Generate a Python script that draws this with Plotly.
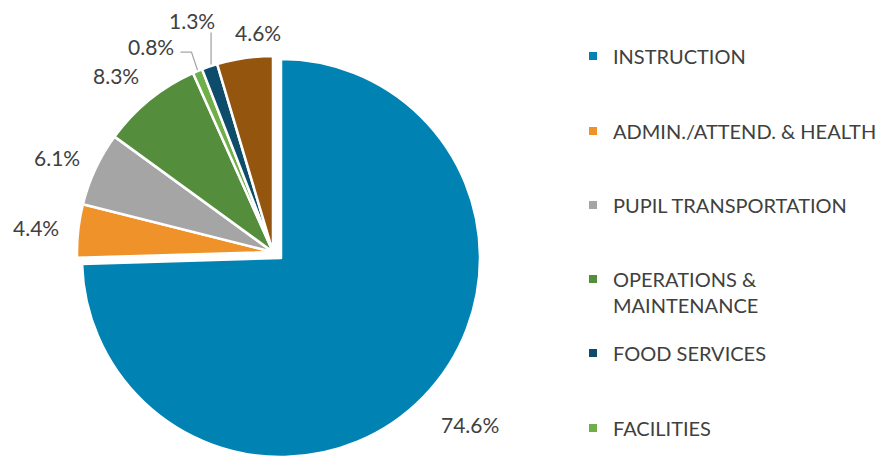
import math
import plotly.graph_objects as go

# ---------------- data (clockwise from 12 o'clock) ----------------
labels = ["INSTRUCTION", "ADMIN./ATTEND. & HEALTH", "PUPIL TRANSPORTATION",
          "OPERATIONS & MAINTENANCE", "FACILITIES", "FOOD SERVICES", "OTHER"]
values = [74.6, 4.4, 6.1, 8.3, 0.8, 1.3, 4.6]
colors = ["#0083B3", "#F0922A", "#A5A5A5", "#548E3D", "#6FAE48", "#0D4D6B", "#94560F"]

# legend (order as shown in the reference)
legend_labels = ["INSTRUCTION", "ADMIN./ATTEND. & HEALTH", "PUPIL TRANSPORTATION",
                 "OPERATIONS &<br>MAINTENANCE", "FOOD SERVICES", "FACILITIES"]
legend_colors = ["#0083B3", "#F0922A", "#A5A5A5", "#548E3D", "#0D4D6B", "#6FAE48"]

# ---------------- layout / style settings ----------------
W, H = 890, 457
FONT = "Lato"
TXT = "#404040"
LEADER = "#A6A6A6"
BORDER = 2.5
EXPLODED = [0]                       # slice drawn exploded (Instruction)
DOM_MAIN = dict(x=[77 / W, 469 / W], y=[0.0197, 0.8775])
DOM_EXPL = dict(x=[82 / W, 480 / W], y=[0.0, 0.8709])
legend_ypix = [56, 131, 205, 292, 353, 428]
legend_xpix = 573
# Excel-like label placement tweaks (pixels)
label_gap = 18
label_nudge = {0: (12, 8), 3: (-7, -2), 4: (-46, -25), 5: (-18, -46), 6: (19, 2)}
leader_style = {4: "elbow", 5: "vertical"}


def geom(dom):
    cx = (dom["x"][0] + dom["x"][1]) / 2 * W
    cy = (1 - (dom["y"][0] + dom["y"][1]) / 2) * H
    rr = min((dom["x"][1] - dom["x"][0]) * W, (dom["y"][1] - dom["y"][0]) * H) / 2
    return cx, cy, rr


fig = go.Figure()
common = dict(labels=labels, values=values, sort=False, direction="clockwise",
              rotation=0, textinfo="none", showlegend=False, automargin=False,
              hovertemplate="%{label}: %{value:.1f}%<extra></extra>")
# exploded slice(s)
fig.add_trace(go.Pie(
    **common, domain=DOM_EXPL,
    marker=dict(colors=[c if i in EXPLODED else "rgba(0,0,0,0)" for i, c in enumerate(colors)],
                line=dict(color="white", width=[BORDER if i in EXPLODED else 0 for i in range(len(values))])),
))
# remaining slices
fig.add_trace(go.Pie(
    **common, domain=DOM_MAIN,
    marker=dict(colors=["rgba(0,0,0,0)" if i in EXPLODED else c for i, c in enumerate(colors)],
                line=dict(color="white", width=[0 if i in EXPLODED else BORDER for i in range(len(values))])),
))

total = sum(values)
cum = 0.0
for i, v in enumerate(values):
    theta = 2 * math.pi * (cum + v / 2) / total
    cum += v
    dx, dy = math.sin(theta), -math.cos(theta)  # screen direction (y down)
    ox, oy, r = geom(DOM_EXPL if i in EXPLODED else DOM_MAIN)
    text = f"{v:.1f}%"
    hw, hh = 6.0 * len(text), 10
    rim = (ox + r * dx, oy + r * dy)
    nx, ny = label_nudge.get(i, (0, 0))
    if i in leader_style:
        lx, ly = rim[0] + nx, rim[1] + ny
    else:
        lx = ox + (r + label_gap) * dx + hw * dx + nx
        ly = oy + (r + label_gap) * dy + hh * dy + ny
    fig.add_annotation(
        x=lx / W, y=1 - ly / H, xref="paper", yref="paper", text=text,
        showarrow=False, xanchor="center", yanchor="middle",
        font=dict(family=FONT, size=21, color=TXT),
    )
    style = leader_style.get(i)
    if style == "elbow":
        pts = [(rim[0], rim[1] - 1), (rim[0] - 6, ly + 6), (lx + hw + 5, ly + 6)]
    elif style == "vertical":
        pts = [(rim[0] + 1.5, rim[1] - 2), (rim[0] + 1.5, ly + 12)]
    else:
        pts = None
    if pts:
        path = "M " + " L ".join(f"{px / W},{1 - py / H}" for px, py in pts)
        fig.add_shape(type="path", path=path, xref="paper", yref="paper",
                      line=dict(color=LEADER, width=1.3))

layout_legends = {}
for i, (lab, col, yp) in enumerate(zip(legend_labels, legend_colors, legend_ypix)):
    key = "legend" if i == 0 else f"legend{i+1}"
    fig.add_trace(go.Scatter(
        x=[None], y=[None], mode="markers", name=lab,
        marker=dict(symbol="square", size=8, color=col),
        legend=key, showlegend=True, hoverinfo="skip",
    ))
    layout_legends[key] = dict(
        x=legend_xpix / W, xanchor="left", y=1 - yp / H, yanchor="middle",
        valign="top", bgcolor="rgba(0,0,0,0)", borderwidth=0,
        font=dict(family=FONT, size=20, color=TXT), itemwidth=30,
    )

fig.update_layout(
    width=W, height=H,
    margin=dict(l=0, r=0, t=0, b=0, autoexpand=False),
    paper_bgcolor="white", plot_bgcolor="white",
    xaxis=dict(visible=False), yaxis=dict(visible=False),
    **layout_legends,
)

fig.write_html("out.html", config={"displayModeBar": False},
               post_script="document.body.style.margin='0px';")
